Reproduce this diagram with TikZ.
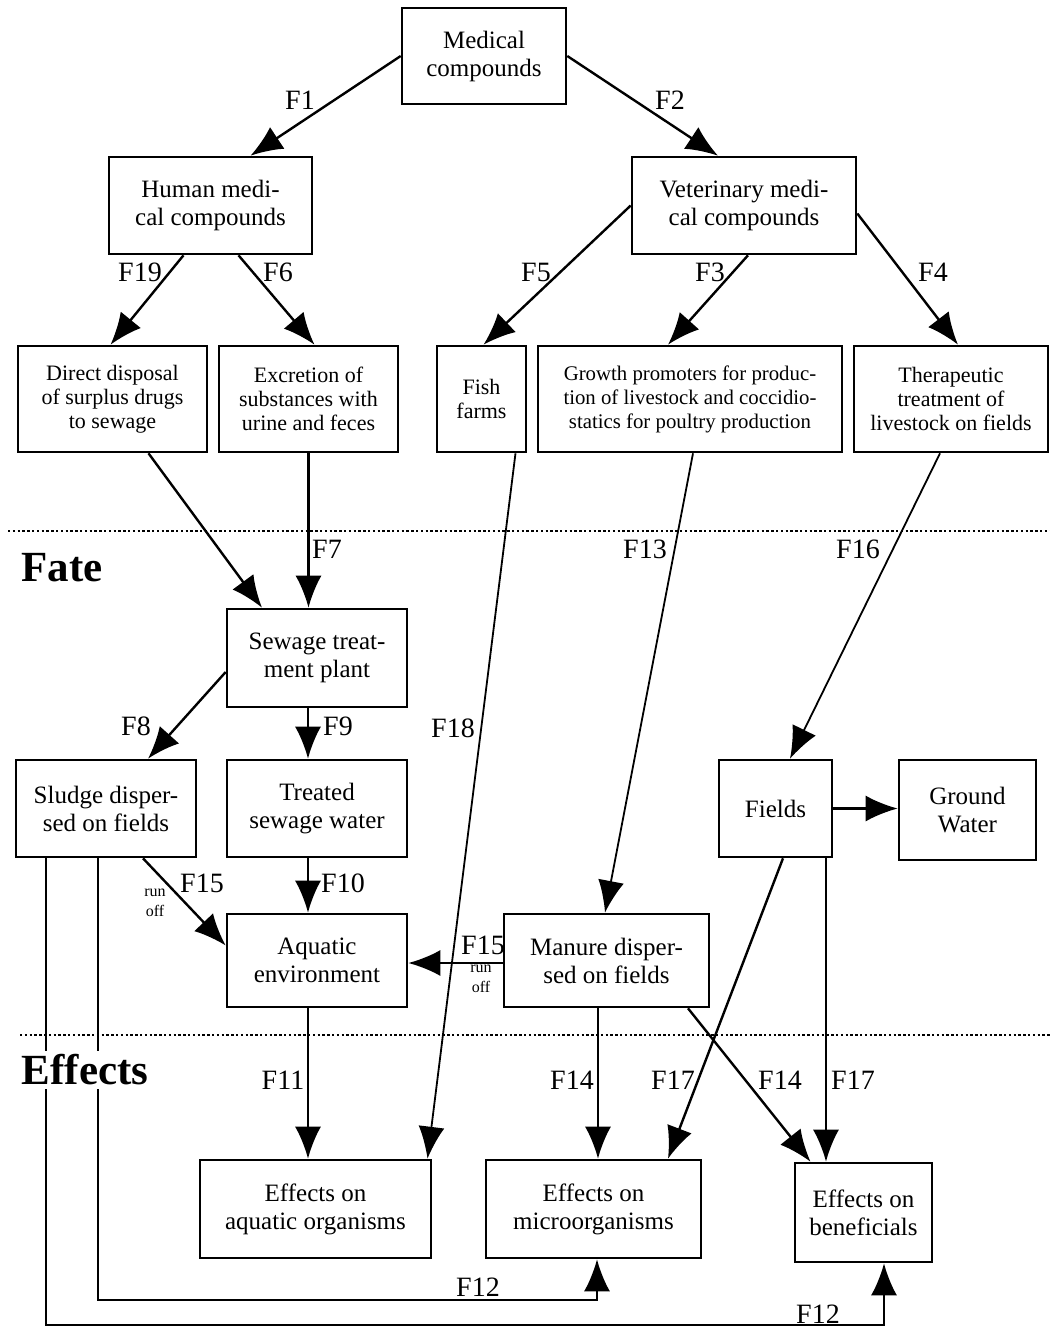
\documentclass[tikz,border=0pt]{standalone}
\usepackage{fontspec}
\setmainfont{Liberation Serif}
\usetikzlibrary{arrows.meta,calc}
\begin{document}
\begin{tikzpicture}[x=0.5pt,y=-0.5pt,
 box/.style={draw,line width=1.3pt,align=center,inner sep=0pt,font=\fontsize{12.5}{14}\selectfont},
 sbox/.style={box,font=\fontsize{11}{12}\selectfont},
 lab/.style={inner sep=0pt,font=\fontsize{14}{14}\selectfont},
 runoff/.style={inner sep=0pt,align=center,font=\fontsize{8}{10}\selectfont},
 secttl/.style={inner sep=2pt,font=\fontsize{21.5}{22}\selectfont\bfseries},
 arr/.style={-{Latex[length=16pt,width=13pt]},line width=1.2pt},
 tarr/.style={arr,line width=0.9pt},
 dotline/.style={line width=0.9pt,dash pattern=on 1.2pt off 1.2pt}]
\useasboundingbox (0,0) rectangle (1050,1330);
% separators
\draw[dotline] (8,531) -- (1050,531);
\draw[dotline] (20,1035) -- (1050,1035);
% boxes
\node[box,minimum width=82pt,minimum height=48pt] (mc) at (484,56) {Medical\\compounds};
\node[box,minimum width=101.5pt,minimum height=48.5pt] (hmc) at (210.5,205.5) {Human medi-\\cal compounds};
\node[box,minimum width=112pt,minimum height=48.5pt] (vmc) at (744,205.5) {Veterinary medi-\\cal compounds};
\node[sbox,minimum width=94.5pt,minimum height=53pt] (dd) at (112.5,399) {Direct disposal\\of surplus drugs\\to sewage};
\node[sbox,minimum width=89.5pt,minimum height=53pt] (ex) at (308.5,399) {Excretion of\\substances with\\urine and feces};
\node[sbox,minimum width=44.5pt,minimum height=53pt] (ff) at (481.5,399) {Fish\\farms};
\node[sbox,minimum width=152pt,minimum height=53pt,font=\fontsize{10.4}{12}\selectfont] (gp) at (690,399) {Growth promoters for produc-\\tion of livestock and coccidio-\\statics for poultry production};
\node[sbox,minimum width=97pt,minimum height=53pt] (th) at (951,399) {Therapeutic\\treatment of\\livestock on fields};
\node[box,minimum width=90pt,minimum height=49pt] (stp) at (317,658) {Sewage treat-\\ment plant};
\node[box,minimum width=90pt,minimum height=48.5pt] (sl) at (106,808.5) {Sludge disper-\\sed on fields};
\node[box,minimum width=90pt,minimum height=48.5pt] (tsw) at (317,808.5) {Treated\\sewage water};
\node[box,minimum width=56.5pt,minimum height=48.5pt] (fi) at (775.5,808.5) {Fields};
\node[box,minimum width=68.5pt,minimum height=50pt] (gw) at (967.5,810) {Ground\\Water};
\node[box,minimum width=90pt,minimum height=46.5pt] (ae) at (317,960.5) {Aquatic\\environment};
\node[box,minimum width=102.5pt,minimum height=46.5pt] (mn) at (606.5,960.5) {Manure disper-\\sed on fields};
\node[box,minimum width=115.5pt,minimum height=49pt] (ea) at (315.5,1209) {Effects on\\aquatic organisms};
\node[box,minimum width=107.5pt,minimum height=49pt] (em) at (593.5,1209) {Effects on\\microorganisms};
\node[box,minimum width=68.5pt,minimum height=49.5pt] (eb) at (863.5,1212.5) {Effects on\\beneficials};
% helper coordinates
\coordinate (b1) at (597,1300);
\coordinate (b2) at (884,1325);
\coordinate (pex) at (ex.south);
\coordinate (pstp) at ($(stp.south)+(-9,0)$);
\coordinate (ptsw) at ($(tsw.south)+(-9,0)$);
\coordinate (pae) at ($(ae.south)+(-9,0)$);
\coordinate (pmn) at ($(mn.south)+(-8.5,0)$);
\coordinate (pfi) at ($(fi.south)+(50.5,0)$);
% F12 connectors (drawn first, so the Effects title masks them)
\draw[arr] ($(sl.south)+(-8,0)$) |- (b1) -- ($(em.south)+(3.5,0)$);
\draw[arr] ($(sl.south)+(-60,0)$) |- (b2) -- ($(eb.south)+(20.5,0)$);
% section titles
\node[secttl] (fate) at (62,568) {Fate};
\node[secttl,fill=white] (eff) at (85,1070) {Effects};
% connectors
\draw[arr] (mc.west) -- ($(hmc.north)+(40,0)$);
\draw[arr] (mc.east) -- ($(vmc.north)+(-26,0)$);
\draw[arr] ($(hmc.south)+(-27,0)$) -- ($(dd.north)+(-2,0)$);
\draw[arr] ($(hmc.south)+(28,0)$) -- ($(ex.north)+(6,0)$);
\draw[arr] (vmc.west) -- ($(ff.north)+(2,0)$);
\draw[arr] ($(vmc.south)+(4,0)$) -- ($(gp.north)+(-22,0)$);
\draw[arr] ($(vmc.east)+(0,8)$) -- ($(th.north)+(7,0)$);
\draw[arr] ($(dd.south)+(36,0)$) -- ($(stp.north)+(-55,0)$);
\draw[arr] (pex) -- (pex |- stp.north);
\draw[tarr] ($(ff.south)+(34,0)$) -- ($(ea.north)+(112,0)$);
\draw[tarr] ($(gp.south)+(3,0)$) -- ($(mn.north)+(-1.5,0)$);
\draw[tarr] ($(th.south)+(-11,0)$) -- ($(fi.north)+(14.5,0)$);
\draw[arr] ($(stp.west)+(0,14)$) -- ($(sl.north)+(42,0)$);
\draw[arr] (pstp) -- (pstp |- tsw.north);
\draw[arr] ($(sl.south)+(37,0)$) -- ($(ae.west)+(0,-15)$);
\draw[arr] (ptsw) -- (ptsw |- ae.north);
\draw[arr] ($(mn.west)+(0,2.5)$) -- ($(ae.east)+(0,2.5)$);
\draw[arr] (fi.east) -- (gw.west |- fi.east);
\draw[arr] (pae) -- (pae |- ea.north);
\draw[arr] (pmn) -- (pmn |- em.north);
\draw[arr] ($(fi.south)+(7.5,0)$) -- ($(em.north)+(74.5,0)$);
\draw[arr] ($(mn.south)+(81.5,0)$) -- ($(eb.north)+(-53,0)$);
\draw[arr] (pfi) -- (pfi |- eb.north);
% labels
\node[lab] (l1) at (300,100) {F1};
\node[lab] (l2) at (670,100) {F2};
\node[lab] (l19) at (140,272) {F19};
\node[lab] (l6) at (278,272) {F6};
\node[lab] (l5) at (536,272) {F5};
\node[lab] (l3) at (710,272) {F3};
\node[lab] (l4) at (933,272) {F4};
\node[lab] (l7) at (327,549) {F7};
\node[lab] (l13) at (645,549) {F13};
\node[lab] (l16) at (858,549) {F16};
\node[lab] (l18) at (453,728) {F18};
\node[lab] (l8) at (136,726) {F8};
\node[lab] (l9) at (338,726) {F9};
\node[lab] (l15a) at (202,883) {F15};
\node[runoff] (ro1) at (155,903) {run\\off};
\node[lab] (l10) at (343,883) {F10};
\node[lab] (l15b) at (483,945) {F15};
\node[runoff] (ro2) at (481,979) {run\\off};
\node[lab] (l11) at (283,1080) {F11};
\node[lab] (l14a) at (572,1080) {F14};
\node[lab] (l17a) at (673,1080) {F17};
\node[lab] (l14b) at (780,1080) {F14};
\node[lab] (l17b) at (853,1080) {F17};
\node[lab] (l12a) at (478,1287) {F12};
\node[lab] (l12b) at (818,1314) {F12};
\end{tikzpicture}
\end{document}
